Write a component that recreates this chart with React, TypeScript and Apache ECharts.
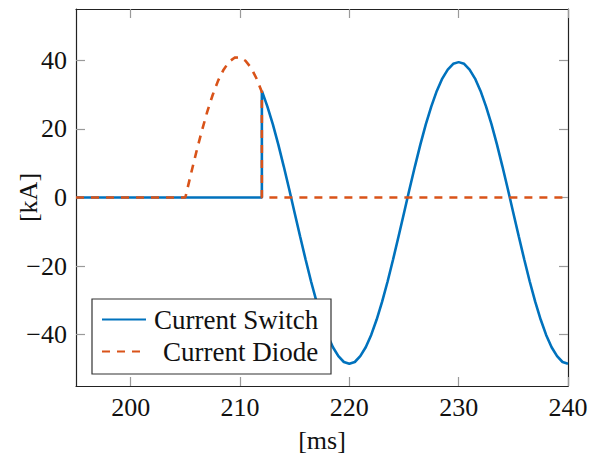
import React, { useEffect, useRef } from "react";
import * as echarts from "echarts";

// Time axis (ms) and values (kA)
const switchTime = [
  195, 212, 212, 212.5, 213, 213.5, 214, 214.5, 215, 215.5, 216, 216.5, 217, 217.5,
  218, 218.5, 219, 219.5, 220, 220.5, 221, 221.5, 222, 222.5, 223, 223.5, 224,
  224.5, 225, 225.5, 226, 226.5, 227, 227.5, 228, 228.5, 229, 229.5, 230, 230.5,
  231, 231.5, 232, 232.5, 233, 233.5, 234, 234.5, 235, 235.5, 236, 236.5, 237,
  237.5, 238, 238.5, 239, 239.5, 240,
];
const switchValues = [
  0, 0, 31.1, 26.6, 21.4, 15.5, 9.1, 2.4, -4.5, -11.4, -18.1, -24.5, -30.4, -35.6,
  -40.1, -43.7, -46.3, -48.0, -48.5, -48.0, -46.3, -43.7, -40.1, -35.6, -30.4,
  -24.5, -18.1, -11.4, -4.5, 2.4, 9.1, 15.5, 21.4, 26.6, 31.1, 34.7, 37.3, 39.0,
  39.5, 39.0, 37.3, 34.7, 31.1, 26.6, 21.4, 15.5, 9.1, 2.4, -4.5, -11.4, -18.1,
  -24.5, -30.4, -35.6, -40.1, -43.7, -46.3, -48.0, -48.5,
];

const diodeTime = [
  195, 205, 205.5, 206, 206.5, 207, 207.5, 208, 208.5, 209, 209.5, 210, 210.5,
  211, 211.5, 212, 212, 240,
];
const diodeValues = [
  0, 0, 6.7, 13.2, 19.3, 25.0, 29.9, 34.1, 37.3, 39.6, 40.8, 40.9, 39.9, 37.9,
  34.8, 30.8, 0, 0,
];

const xTicks = [200, 210, 220, 230, 240];
const yTicks = [-40, -20, 0, 20, 40];

const seriesNames = ["Current Switch", "Current Diode"];
const xName = "[ms]";
const yName = "[kA]";

const FONT = "'Liberation Serif', 'Times New Roman', serif";
const BLUE = "#0072BD";
const ORANGE = "#D95319";
const TEXT = "#111";

const fmt = (v: number) => (v < 0 ? "\u2212" + Math.abs(v) : String(v));

export default function App() {
  const ref = useRef<HTMLDivElement>(null);
  useEffect(() => {
    if (!ref.current) return;
    const chart = echarts.init(ref.current, undefined, { renderer: "svg" });
    const switchData = switchTime.map((t, i) => [t, switchValues[i]]);
    const diodeData = diodeTime.map((t, i) => [t, diodeValues[i]]);

    const baseX = {
      type: "value" as const,
      min: 195,
      max: 240,
      axisLine: { show: true, onZero: false, lineStyle: { color: "#222", width: 1.2 } },
      splitLine: { show: false },
    };
    const baseY = {
      type: "value" as const,
      min: -55,
      max: 55,
      axisLine: { show: true, onZero: false, lineStyle: { color: "#222", width: 1.2 } },
      splitLine: { show: false },
    };
    const tickStyle = { show: true, inside: true, length: 9, lineStyle: { color: "#9a9a9a", width: 1.2 } };
    const legendText = { fontFamily: FONT, fontSize: 27, color: TEXT, lineHeight: 27 };

    chart.setOption({
      animation: false,
      backgroundColor: "#ffffff",
      grid: {
        left: 76,
        right: 30,
        top: 9,
        bottom: 69,
        containLabel: false,
        outerBoundsMode: "none",
      },
      xAxis: [
        {
          ...baseX,
          position: "bottom",
          name: xName,
          nameLocation: "middle",
          nameGap: 41,
          nameMoveOverlap: false,
          nameTextStyle: { fontFamily: FONT, fontSize: 26, color: TEXT },
          axisTick: { ...tickStyle, customValues: xTicks },
          axisLabel: {
            show: true,
            customValues: xTicks,
            formatter: fmt,
            margin: 8,
            fontFamily: FONT,
            fontSize: 26,
            color: TEXT,
          },
        },
        {
          ...baseX,
          position: "top",
          axisTick: { ...tickStyle, customValues: xTicks },
          axisLabel: { show: false },
        },
      ],
      yAxis: [
        {
          ...baseY,
          position: "left",
          name: yName,
          nameLocation: "middle",
          nameGap: 35,
          nameRotate: 90,
          nameMoveOverlap: false,
          nameTextStyle: { fontFamily: FONT, fontSize: 26, color: TEXT },
          axisTick: { ...tickStyle, customValues: yTicks },
          axisLabel: {
            show: true,
            customValues: yTicks,
            formatter: fmt,
            margin: 9,
            fontFamily: FONT,
            fontSize: 26,
            color: TEXT,
          },
        },
        {
          ...baseY,
          position: "right",
          axisTick: { ...tickStyle, customValues: yTicks },
          axisLabel: { show: false },
        },
      ],
      legend: [
        {
          data: [seriesNames[0]],
          left: 101,
          top: 306,
          padding: 0,
          itemWidth: 44,
          itemHeight: 14,
          z: 10,
          itemStyle: { opacity: 0 },
          textStyle: { ...legendText, padding: [0, 0, 0, 3] },
        },
        {
          data: [seriesNames[1]],
          left: 101,
          top: 338,
          padding: 0,
          itemWidth: 44,
          itemHeight: 14,
          z: 10,
          itemStyle: { opacity: 0 },
          textStyle: { ...legendText, padding: [0, 0, 0, 12] },
        },
      ],
      graphic: [
        {
          type: "rect",
          z: 5,
          shape: { x: 92, y: 299, width: 239, height: 75 },
          style: { fill: "#ffffff", stroke: "#333", lineWidth: 1.2 },
        },
      ],
      series: [
        {
          name: seriesNames[0],
          type: "line",
          data: switchData,
          symbol: "none",
          lineStyle: { color: BLUE, width: 2.6 },
          itemStyle: { color: BLUE },
          z: 2,
        },
        {
          name: seriesNames[1],
          type: "line",
          data: diodeData,
          symbol: "none",
          lineStyle: { color: ORANGE, width: 2.6, type: [8, 7] },
          itemStyle: { color: ORANGE },
          z: 3,
        },
      ],
    });
    return () => chart.dispose();
  }, []);
  return (
    <div
      ref={ref}
      style={{ position: "fixed", left: 0, top: 0, width: 598, height: 455, background: "#fff" }}
    />
  );
}
